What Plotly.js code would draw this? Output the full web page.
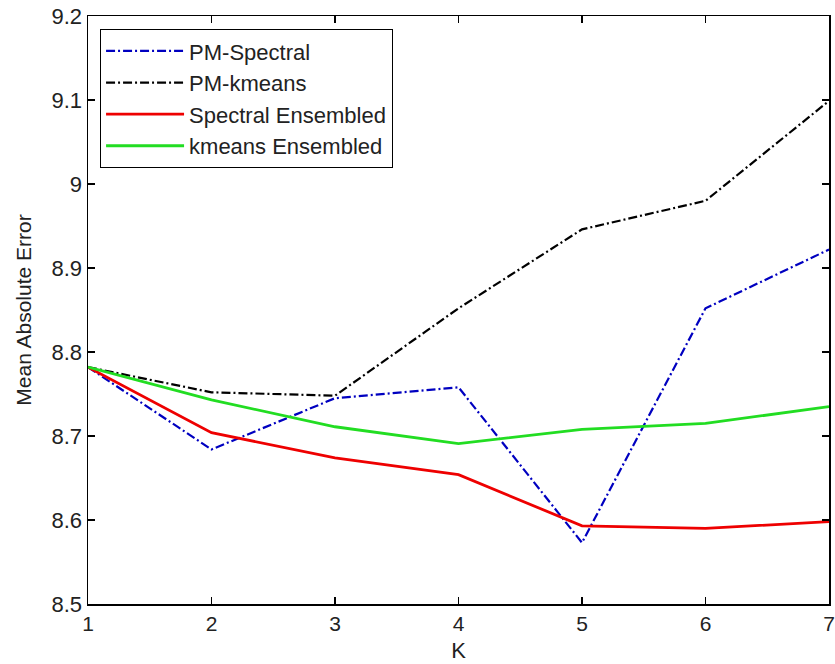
<!DOCTYPE html>
<html>
<head>
<meta charset="utf-8">
<script src="https://cdn.plot.ly/plotly-3.0.1.min.js"></script>
<style>html,body{margin:0;padding:0;background:#fff;}#chart{width:835px;height:664px;}</style>
</head>
<body>
<div id="chart"></div>
<script>
const K = [1, 2, 3, 4, 5, 6, 7];
const pmSpectral = [8.782, 8.684, 8.745, 8.758, 8.573, 8.852, 8.922];
const pmKmeans = [8.782, 8.752, 8.748, 8.852, 8.946, 8.980, 9.099];
const spectralEnsembled = [8.782, 8.704, 8.674, 8.654, 8.593, 8.590, 8.598];
const kmeansEnsembled = [8.782, 8.743, 8.711, 8.691, 8.708, 8.715, 8.735];
const names = ['PM-Spectral', 'PM-kmeans', 'Spectral Ensembled', 'kmeans Ensembled'];
const xTicks = [1, 2, 3, 4, 5, 6, 7];
const yTicks = [8.5, 8.6, 8.7, 8.8, 8.9, 9, 9.1, 9.2];
const yTickText = ['8.5', '8.6', '8.7', '8.8', '8.9', '9', '9.1', '9.2'];

const traces = [
  {x: K, y: pmSpectral, name: names[0], mode: 'lines', line: {color: '#0000c0', width: 2.2, dash: '9px,3px,2px,3px'}},
  {x: K, y: pmKmeans, name: names[1], mode: 'lines', line: {color: '#000000', width: 2.2, dash: '9px,3px,2px,3px'}},
  {x: K, y: spectralEnsembled, name: names[2], mode: 'lines', line: {color: '#ee0000', width: 2.8}},
  {x: K, y: kmeansEnsembled, name: names[3], mode: 'lines', line: {color: '#22dd22', width: 2.8}}
];

const axisCommon = {
  showgrid: false, zeroline: false, showline: true, linecolor: '#000', linewidth: 1.5,
  mirror: 'ticks', ticks: 'inside', ticklen: 7, tickwidth: 1.2, tickcolor: '#000'
};

const layout = {
  width: 835, height: 664,
  margin: {l: 88, r: 6, t: 16, b: 60},
  paper_bgcolor: '#fff', plot_bgcolor: '#fff',
  font: {family: 'Liberation Sans, Arial, sans-serif', color: '#222', size: 20},
  showlegend: true,
  legend: {
    x: 0.016, y: 0.978, xanchor: 'left', yanchor: 'top',
    bgcolor: '#fff', bordercolor: '#000', borderwidth: 1.2,
    font: {size: 22, family: 'Liberation Sans, Arial, sans-serif', color: '#222'},
    itemwidth: 78
  },
  xaxis: Object.assign({}, axisCommon, {
    range: [1, 7], tickvals: xTicks, ticktext: xTicks.map(String),
    ticklabeloverflow: 'allow',
    tickfont: {size: 21, family: 'Liberation Sans Narrow, Liberation Sans, Arial, sans-serif'},
    title: {text: 'K', font: {size: 22, family: 'Liberation Sans Narrow, Liberation Sans, Arial, sans-serif'}, standoff: 9}
  }),
  yaxis: Object.assign({}, axisCommon, {
    range: [8.5, 9.2], tickvals: yTicks, ticktext: yTickText,
    tickfont: {size: 22},
    title: {text: 'Mean Absolute Error', font: {size: 21}, standoff: 14}
  })
};

Plotly.newPlot('chart', traces, layout, {displayModeBar: false, staticPlot: true});
</script>
</body>
</html>
